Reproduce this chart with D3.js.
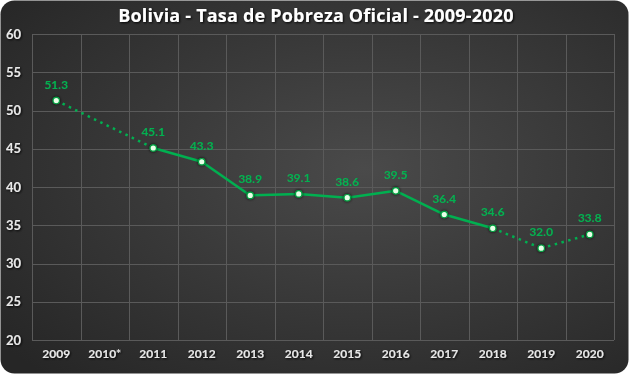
<!DOCTYPE html>
<html><head><meta charset="utf-8">
<script src="https://cdn.jsdelivr.net/npm/d3@7"></script>
<style>body{margin:0;background:#fff;}svg{display:block;}</style>
</head><body>
<svg id="c" width="629" height="374"></svg>
<script>
const categories = ["2009","2010*","2011","2012","2013","2014","2015","2016","2017","2018","2019","2020"];
const values = [51.3, null, 45.1, 43.3, 38.9, 39.1, 38.6, 39.5, 36.4, 34.6, 32.0, 33.8];
const yTicks = [20,25,30,35,40,45,50,55,60];
const solidFrom = "2011", solidTo = "2018";
const title = "Bolivia - Tasa de Pobreza Oficial - 2009-2020";

const W = 629, H = 374;
const m = {l:32, r:15, t:34, b:34};
const svg = d3.select("#c");
const defs = svg.append("defs");
const g1 = defs.append("radialGradient").attr("id","bg").attr("cx","58%").attr("cy","45%").attr("r","75%");
g1.append("stop").attr("offset","0%").attr("stop-color","#4a4a4a");
g1.append("stop").attr("offset","100%").attr("stop-color","#262626");
const f = defs.append("filter").attr("id","sh").attr("x","-20%").attr("y","-50%").attr("width","140%").attr("height","200%");
f.append("feDropShadow").attr("dx",1).attr("dy",1).attr("stdDeviation",0.8).attr("flood-color","#000").attr("flood-opacity",0.9);
const gl = defs.append("filter").attr("id","glow").attr("x","-100%").attr("y","-100%").attr("width","300%").attr("height","300%");
gl.append("feDropShadow").attr("dx",0).attr("dy",0).attr("stdDeviation",1.5).attr("flood-color","#000").attr("flood-opacity",0.9);

svg.append("rect").attr("x",0.5).attr("y",0.5).attr("width",W-1).attr("height",H-1).attr("rx",14).attr("fill","url(#bg)");

const x = d3.scaleBand().domain(categories).range([m.l, W-m.r]);
const y = d3.scaleLinear().domain([20,60]).range([H-m.b, m.t]);

const grid = svg.append("g");
grid.selectAll("line.h").data(yTicks).join("line").attr("x1",m.l).attr("x2",W-m.r)
  .attr("y1",d=>Math.round(y(d))+0.5).attr("y2",d=>Math.round(y(d))+0.5).attr("stroke","#5a5a5a").attr("stroke-width",1);
const bounds = categories.map(c=>x(c)).concat([x(categories[categories.length-1])+x.bandwidth()]);
grid.selectAll("line.v").data(bounds).join("line").attr("y1",y(60)).attr("y2",y(20))
  .attr("x1",d=>Math.round(d)+0.5).attr("x2",d=>Math.round(d)+0.5).attr("stroke","#5a5a5a").attr("stroke-width",1);

svg.append("g").selectAll("text").data(yTicks).join("text")
  .attr("x",6).attr("y",d=>y(d)).attr("dy","0.35em").attr("fill","#e8e8e8")
  .attr("font-family","Lato, 'Open Sans', sans-serif").attr("font-weight","bold").attr("font-size",13)
  .attr("filter","url(#sh)").text(d=>d);

svg.append("g").selectAll("text").data(categories).join("text")
  .attr("x",d=>x(d)+x.bandwidth()/2).attr("y",H-16).attr("text-anchor","middle").attr("fill","#e8e8e8")
  .attr("font-family","Lato, 'Open Sans', sans-serif").attr("font-weight","bold").attr("font-size",12)
  .attr("filter","url(#sh)").text(d=>d);

svg.append("text").attr("x",316).attr("y",22).attr("text-anchor","middle").attr("fill","#ffffff")
  .attr("font-family","'Open Sans', Lato, sans-serif").attr("font-weight","bold").attr("font-size",18)
  .attr("letter-spacing",0.2)
  .attr("filter","url(#sh)").text(title);

const pts = categories.map((c,i)=>({c, i, v: values[i]})).filter(d=>d.v!==null);
const cx = d=>x(d.c)+x.bandwidth()/2;
const line = d3.line().x(cx).y(d=>y(d.v));
const si = categories.indexOf(solidFrom), ei = categories.indexOf(solidTo);
const green = "#00b050";
const segs = [];
for (let k=0;k<pts.length-1;k++){
  const a=pts[k], b=pts[k+1];
  const solid = a.i>=si && b.i<=ei;
  segs.push({pair:[a,b], solid});
}
svg.append("g").selectAll("path").data(segs).join("path")
  .attr("d",d=>line(d.pair)).attr("fill","none").attr("stroke",green)
  .attr("stroke-width",2.5)
  .attr("stroke-dasharray",d=>d.solid?null:"2.5,4.5");

svg.append("g").selectAll("circle").data(pts).join("circle")
  .attr("cx",cx).attr("cy",d=>y(d.v)).attr("r",3.2)
  .attr("fill","#e8ffe8").attr("stroke","#00a040").attr("stroke-width",1.2).attr("filter","url(#glow)");

svg.append("g").selectAll("text").data(pts).join("text")
  .attr("x",cx).attr("y",d=>y(d.v)-12).attr("text-anchor","middle").attr("fill",green)
  .attr("font-family","Lato, 'Open Sans', sans-serif").attr("font-weight","bold").attr("font-size",12)
  .text(d=>d.v.toFixed(1));
</script>
</body></html>
